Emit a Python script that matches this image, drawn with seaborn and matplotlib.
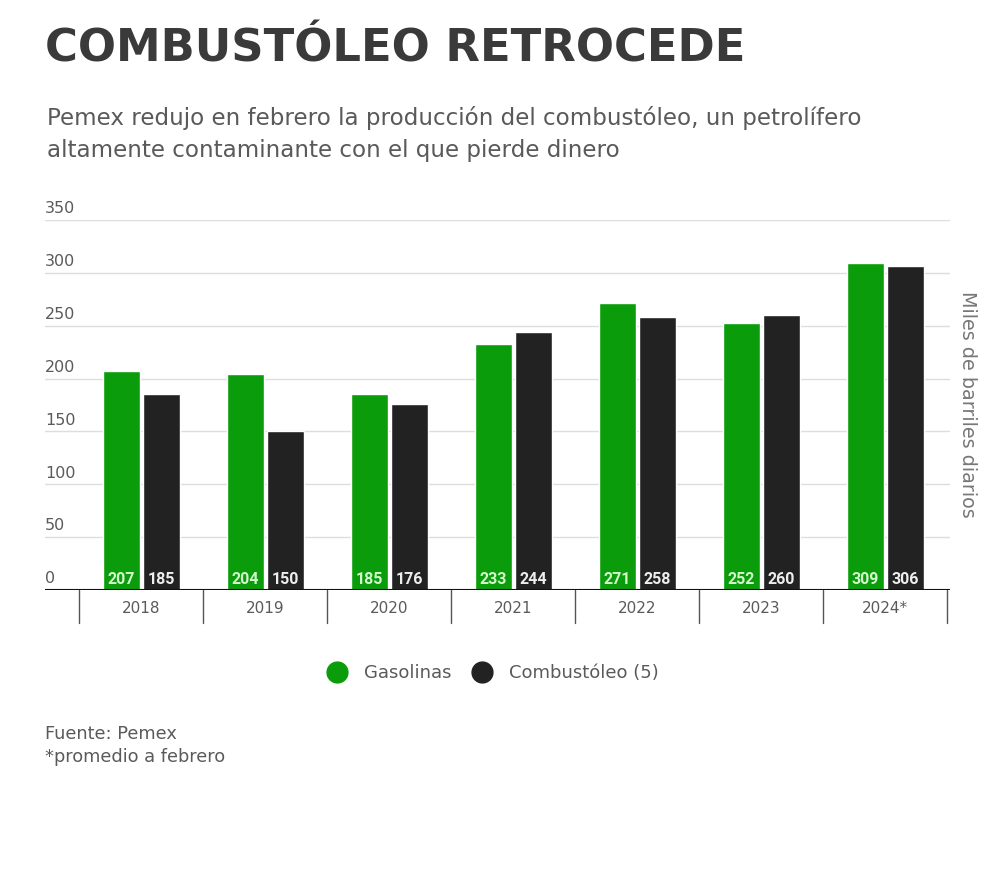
import matplotlib
matplotlib.use('Agg')
import matplotlib.pyplot as plt
import matplotlib.transforms as mtransforms
from matplotlib.lines import Line2D
import seaborn as sns
import pandas as pd

years = ['2018', '2019', '2020', '2021', '2022', '2023', '2024*']
gasolinas = [207, 204, 185, 233, 271, 252, 309]
combustoleo = [185, 150, 176, 244, 258, 260, 306]
series_names = ['Gasolinas', 'Combustóleo (5)']
yticks = [0, 50, 100, 150, 200, 250, 300, 350]

GREEN = '#0a9c0a'
BLACK = '#222222'
GRAY = '#5a5a5a'


def build_frame():  # long table for seaborn
    rows = []
    for yr, g, c in zip(years, gasolinas, combustoleo):
        rows.append({'year': yr, 'serie': series_names[0], 'value': g})
        rows.append({'year': yr, 'serie': series_names[1], 'value': c})
    return pd.DataFrame(rows)


def main():
    sns.set_theme(style='white')
    plt.rcParams['font.family'] = ['DejaVu Sans']

    df = build_frame()
    fig = plt.figure(figsize=(10, 8.9), dpi=100)
    ax = fig.add_axes([0.045, 0.337, 0.905, 0.416])

    sns.barplot(data=df, x='year', y='value', hue='serie', order=years, hue_order=series_names,
                palette=[GREEN, BLACK], width=0.645, gap=0.085, saturation=1, ax=ax, legend=False)

    ax.set_ylim(0, 350)
    ax.set_xlim(-0.776, 6.522)
    for s in ax.spines.values():
        s.set_visible(False)
    ax.set_yticks(yticks)
    ax.set_yticklabels([])
    ax.tick_params(axis='y', length=0)
    ax.tick_params(axis='x', length=0, pad=8, labelsize=11, labelcolor=GRAY)
    ax.set_xlabel('')
    ax.set_ylabel('')

    # gridlines and labels above them
    for t in yticks[1:]:
        ax.axhline(t, color='#dddddd', lw=1, zorder=0)
    trans = mtransforms.blended_transform_factory(ax.transAxes, ax.transData)
    for t in yticks:
        ax.text(0, t + 3.5, str(t), transform=trans, ha='left', va='bottom', fontsize=11.5, color=GRAY)
    ax.axhline(0, color='#111111', lw=1.5, zorder=3)

    # category separators below the axis
    sep_trans = mtransforms.blended_transform_factory(ax.transData, ax.transAxes)
    for i in range(len(years) + 1):
        ax.add_line(Line2D([i - 0.5, i - 0.5], [0, -0.09], transform=sep_trans, color='#555555',
                           lw=1, clip_on=False))

    # value labels at the bottom of each bar
    for container, col in zip(ax.containers, ['#d4f7cc', '#eeeeee']):
        for bar in container:
            ax.text(bar.get_x() + bar.get_width() / 2, 2.5, f'{bar.get_height():.0f}', ha='center',
                    va='bottom', fontsize=11.5, fontweight='bold', color=col, zorder=4,
                    family=['Roboto', 'DejaVu Sans'])

    fig.text(0.968, 0.546, 'Miles de barriles diarios', rotation=-90, ha='center', va='center',
             fontsize=13.8, color='#777777')

    fig.text(0.045, 0.945, 'COMBUSTÓLEO RETROCEDE', ha='left', va='center', fontsize=32.3,
             fontweight='bold', color='#3a3a3a')
    fig.text(0.047, 0.867, 'Pemex redujo en febrero la producción del combustóleo, un petrolífero',
             ha='left', va='center', fontsize=16.6, color=GRAY)
    fig.text(0.047, 0.831, 'altamente contaminante con el que pierde dinero', ha='left', va='center',
             fontsize=16.6, color=GRAY)

    # legend
    handles = [Line2D([], [], marker='o', ls='', markersize=15, color=c) for c in [GREEN, BLACK]]
    fig.legend(handles, series_names, loc='center', bbox_to_anchor=(0.489, 0.244), ncol=2, frameon=False,
               fontsize=13, labelcolor=GRAY, handletextpad=0.5, columnspacing=0.7)

    fig.text(0.045, 0.175, 'Fuente: Pemex', ha='left', va='center', fontsize=12.8, color=GRAY)
    fig.text(0.045, 0.149, '*promedio a febrero', ha='left', va='center', fontsize=12.8, color=GRAY)

    fig.savefig('out.png', dpi=100, facecolor='white')


if __name__ == '__main__':
    main()
